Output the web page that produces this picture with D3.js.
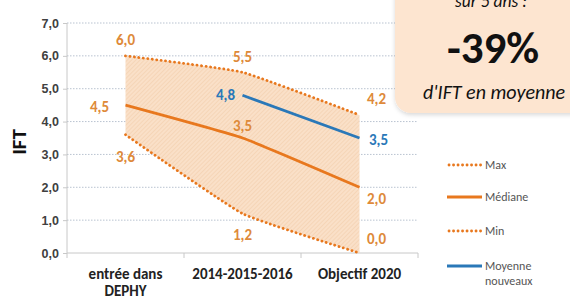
<!DOCTYPE html>
<html>
<head>
<meta charset="utf-8">
<script src="https://cdn.jsdelivr.net/npm/d3@7"></script>
<style>
  body { margin: 0; background: #fff; }
  svg { display: block; font-family: Carlito, "Open Sans", "Liberation Sans", sans-serif; }
</style>
</head>
<body>
<div id="chart"></div>
<script>
// chart values
var categories = [["entrée dans", "DEPHY"], ["2014-2015-2016"], ["Objectif 2020"]];
var maxValues = [6.0, 5.5, 4.2];
var medianValues = [4.5, 3.5, 2.0];
var minValues = [3.6, 1.2, 0.0];
var newcomerValues = [null, 4.8, 3.5];
var yTicks = [0, 1, 2, 3, 4, 5, 6, 7];
var legendLabels = [["Max"], ["Médiane"], ["Min"], ["Moyenne", "nouveaux"]];

var width = 570, height = 297;
var margin = { top: 23, left: 67, right: 152, bottom: 44 };
var orange = "#e8781e", labelOrange = "#de8a3a", blue = "#2a78b8";

var svg = d3.select("#chart").append("svg")
    .attr("width", width)
    .attr("height", height);

var defs = svg.append("defs");
var pat = defs.append("pattern")
    .attr("id", "hatch")
    .attr("patternUnits", "userSpaceOnUse")
    .attr("width", 3).attr("height", 3)
    .attr("patternTransform", "rotate(45)");
pat.append("rect").attr("width", 3).attr("height", 3).attr("fill", "#fae0c8");
pat.append("line").attr("x1", 0).attr("y1", 0).attr("x2", 0).attr("y2", 3)
    .attr("stroke", "#f0cba6").attr("stroke-width", 1);

var shadow = defs.append("filter").attr("id", "shadow")
    .attr("x", "-20%").attr("y", "-20%").attr("width", "140%").attr("height", "140%");
shadow.append("feDropShadow").attr("dx", 0).attr("dy", 2).attr("stdDeviation", 2)
    .attr("flood-color", "#000").attr("flood-opacity", 0.15);

var x = d3.scaleBand()
    .domain(d3.range(categories.length))
    .range([margin.left, width - margin.right]);
var y = d3.scaleLinear()
    .domain([0, 7])
    .range([height - margin.bottom, margin.top]);

function cx(i) { return x(i) + x.bandwidth() / 2; }

// grid
svg.append("g").selectAll("line")
    .data(yTicks.slice(1))
    .enter().append("line")
    .attr("x1", x.range()[0]).attr("x2", x.range()[1])
    .attr("y1", function (d) { return y(d); })
    .attr("y2", function (d) { return y(d); })
    .attr("stroke", "#b9c3d0")
    .attr("stroke-width", 1)
    .attr("stroke-dasharray", "1.5,1.5");

// axes
var yAxis = svg.append("g")
    .attr("transform", "translate(" + margin.left + ",0)")
    .call(d3.axisLeft(y).tickValues(yTicks).tickSize(4)
        .tickFormat(function (d) { return d3.format(".1f")(d).replace(".", ","); }));
yAxis.select(".domain").attr("stroke", "#c8c8c8").attr("d", "M0," + y(7) + "V" + y(0));
yAxis.selectAll(".tick line").attr("stroke", "#c8c8c8");
yAxis.selectAll("text").attr("font-size", 12.5).attr("font-weight", "bold")
    .attr("fill", "#404040").attr("x", -8);

var xAxis = svg.append("g")
    .attr("transform", "translate(0," + y(0) + ")");
xAxis.append("line")
    .attr("x1", x.range()[0]).attr("x2", x.range()[1])
    .attr("stroke", "#c8c8c8");
xAxis.selectAll(".xt")
    .data(d3.range(categories.length + 1))
    .enter().append("line")
    .attr("class", "xt")
    .attr("x1", function (d) { return x.range()[0] + d * x.step(); })
    .attr("x2", function (d) { return x.range()[0] + d * x.step(); })
    .attr("y1", 0).attr("y2", 5)
    .attr("stroke", "#c8c8c8");
var catText = xAxis.selectAll(".cat")
    .data(categories)
    .enter().append("text")
    .attr("class", "cat")
    .attr("x", function (d, i) { return cx(i); })
    .attr("y", 26)
    .attr("text-anchor", "middle")
    .attr("font-size", 15)
    .attr("font-weight", "bold")
    .attr("fill", "#222");
catText.selectAll("tspan")
    .data(function (d) { return d; })
    .enter().append("tspan")
    .attr("x", function () { return this.parentNode.getAttribute("x"); })
    .attr("dy", function (d, i) { return i ? 17 : 0; })
    .text(function (d) { return d; });

svg.append("text")
    .attr("transform", "translate(26," + (y(3.5) + 4) + ") rotate(-90)")
    .attr("text-anchor", "middle")
    .attr("font-size", 21)
    .attr("font-weight", "bold")
    .attr("fill", "#111")
    .text("IFT");

// band between min and max (light smoothing, like the original)
var curve = d3.curveCardinal.tension(0.6);
var band = d3.area()
    .x(function (d, i) { return cx(i); })
    .y0(function (d, i) { return y(minValues[i]); })
    .y1(function (d) { return y(d); })
    .curve(curve);
svg.append("path")
    .datum(maxValues)
    .attr("d", band)
    .attr("fill", "url(#hatch)");

var line = d3.line()
    .defined(function (d) { return d != null; })
    .x(function (d, i) { return cx(i); })
    .y(function (d) { return y(d); })
    .curve(curve);

var series = [
    { values: maxValues, color: orange, dash: "0.1,4.4", width: 2.8, cap: "round" },
    { values: medianValues, color: orange, dash: null, width: 2.8, cap: "butt" },
    { values: minValues, color: orange, dash: "0.1,4.4", width: 2.8, cap: "round" },
    { values: newcomerValues, color: blue, dash: null, width: 2.8, cap: "butt" }
];
svg.append("g").selectAll("path")
    .data(series)
    .enter().append("path")
    .attr("d", function (d) { return line(d.values); })
    .attr("fill", "none")
    .attr("stroke", function (d) { return d.color; })
    .attr("stroke-width", function (d) { return d.width; })
    .attr("stroke-linecap", function (d) { return d.cap; })
    .attr("stroke-linejoin", "round")
    .attr("stroke-dasharray", function (d) { return d.dash; });

// data labels: offset [dx, dy] per point
var labels = [
    { values: maxValues, color: labelOrange, off: [[0, -16], [0, -15], [17, -16]] },
    { values: medianValues, color: labelOrange, off: [[-26, 2], [0, -12], [17, 12]] },
    { values: minValues, color: labelOrange, off: [[0, 22], [0, 21], [17, -14]] },
    { values: newcomerValues, color: blue, off: [[0, 0], [-17, 0], [19, 2]] }
];
var fmt = function (v) { return d3.format(".1f")(v).replace(".", ","); };
labels.forEach(function (s) {
    svg.append("g").selectAll("text")
        .data(s.values.map(function (v, i) { return { v: v, i: i }; })
            .filter(function (d) { return d.v != null; }))
        .enter().append("text")
        .attr("x", function (d) { return cx(d.i) + s.off[d.i][0]; })
        .attr("y", function (d) { return y(d.v) + s.off[d.i][1] + 5; })
        .attr("text-anchor", "middle")
        .attr("font-size", 15)
        .attr("font-weight", "bold")
        .attr("fill", s.color)
        .text(function (d) { return fmt(d.v); });
});

// legend
var legend = svg.append("g").attr("transform", "translate(447,165)");
var leg = legend.selectAll("g")
    .data(series)
    .enter().append("g")
    .attr("transform", function (d, i) { return "translate(0," + [0, 32, 66, 101][i] + ")"; });
leg.append("line")
    .attr("x1", function (d) { return d.dash ? 2 : 0; })
    .attr("x2", 35)
    .attr("stroke", function (d) { return d.color; })
    .attr("stroke-width", function (d) { return d.width; })
    .attr("stroke-linecap", function (d) { return d.cap; })
    .attr("stroke-dasharray", function (d) { return d.dash; });
var legText = leg.append("text")
    .attr("x", 38)
    .attr("y", 4)
    .attr("font-size", 12)
    .attr("fill", "#555");
legText.selectAll("tspan")
    .data(function (d, i) { return legendLabels[i]; })
    .enter().append("tspan")
    .attr("x", 38)
    .attr("dy", function (d, i) { return i ? 15 : 0; })
    .text(function (d) { return d; });

// callout box
var box = svg.append("g");
box.append("rect")
    .attr("x", 395).attr("y", -30)
    .attr("width", 220).attr("height", 143)
    .attr("rx", 16)
    .attr("fill", "#fde5d0")
    .attr("filter", "url(#shadow)");
box.append("text")
    .attr("x", 491).attr("y", 7)
    .attr("text-anchor", "middle")
    .attr("font-size", 17.5)
    .attr("font-style", "italic")
    .attr("fill", "#111")
    .text("sur 5 ans :");
box.append("text")
    .attr("x", 493).attr("y", 63)
    .attr("text-anchor", "middle")
    .attr("font-size", 45)
    .attr("font-weight", "bold")
    .attr("fill", "#111")
    .text("-39%");
box.append("text")
    .attr("x", 494).attr("y", 99)
    .attr("text-anchor", "middle")
    .attr("font-size", 20)
    .attr("font-style", "italic")
    .attr("fill", "#111")
    .text("d'IFT en moyenne");
</script>
</body>
</html>
